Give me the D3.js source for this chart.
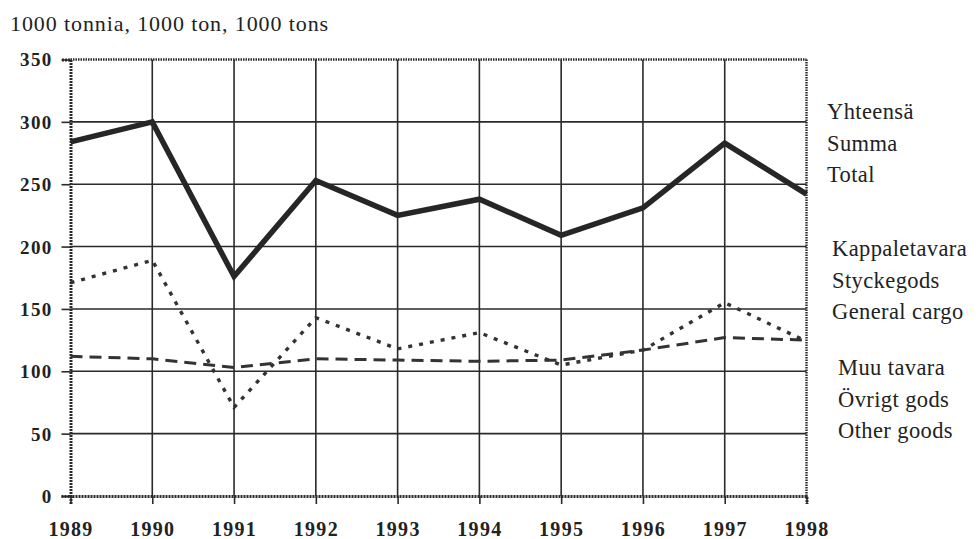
<!DOCTYPE html>
<html><head><meta charset="utf-8">
<script src="https://cdn.jsdelivr.net/npm/d3@7"></script>
<style>
body{margin:0;background:#fff;}
svg{display:block;}
text{font-family:"Liberation Serif","Times New Roman",serif;fill:#222;}
</style></head>
<body><svg id="c" width="978" height="539"></svg>
<script>
const years = [1989,1990,1991,1992,1993,1994,1995,1996,1997,1998];
const total = [284,300,176,253,225,238,209,231,283,242];
const generalCargo = [171,189,71,143,118,131,105,117,155,124];
const otherGoods = [112,110,103,110,109,108,109,117,127,125];
const yTicks = [0,50,100,150,200,250,300,350];
const unitLabel = "1000 tonnia, 1000 ton, 1000 tons";
const legendTotal = ["Yhteensä","Summa","Total"];
const legendGeneral = ["Kappaletavara","Styckegods","General cargo"];
const legendOther = ["Muu tavara","Övrigt gods","Other goods"];

const svg = d3.select("#c");
const L = 70.5, R = 806.5, T = 59.5, B = 496;
const x = d3.scaleLinear().domain([1989,1998]).range([L,R]);
const y = d3.scaleLinear().domain([0,350]).range([B,T]);
const ink = "#2a2a2a";

// grid
svg.append("g").selectAll("line").data(yTicks.filter(d=>d>0 && d<350)).join("line")
  .attr("x1",L).attr("x2",R).attr("y1",d=>y(d)).attr("y2",d=>y(d))
  .attr("stroke",ink).attr("stroke-width",1.6);
svg.append("g").selectAll("line").data(years.slice(1,-1)).join("line")
  .attr("x1",d=>x(d)).attr("x2",d=>x(d)).attr("y1",T).attr("y2",B)
  .attr("stroke",ink).attr("stroke-width",1.6);

// frame (hatched look)
const frame = svg.append("g").attr("fill","none").attr("stroke",ink);
frame.append("line").attr("x1",L).attr("x2",R).attr("y1",T).attr("y2",T).attr("stroke-width",2.6).attr("stroke-dasharray","1.5,1");
frame.append("line").attr("x1",R).attr("x2",R).attr("y1",T).attr("y2",B).attr("stroke-width",2.4).attr("stroke-dasharray","1.5,1");

// axes
const yAxis = d3.axisLeft(y).tickValues(yTicks).tickSize(9).tickPadding(9);
const gy = svg.append("g").attr("transform",`translate(${L},0)`).call(yAxis);
gy.select(".domain").attr("stroke",ink).attr("stroke-width",3).attr("stroke-dasharray","2,1");
gy.selectAll(".tick line").attr("stroke",ink).attr("stroke-width",1.6);
gy.selectAll("text").attr("font-family","Liberation Serif").attr("font-weight","bold")
  .attr("font-size",19).attr("letter-spacing","1.3px").attr("fill","#222").attr("dy","0.34em");

const xAxis = d3.axisBottom(x).tickValues(years).tickFormat(d3.format("d")).tickSize(8).tickPadding(18);
const gx = svg.append("g").attr("transform",`translate(0,${B})`).call(xAxis);
gx.select(".domain").attr("stroke",ink).attr("stroke-width",3).attr("stroke-dasharray","2,1");
gx.selectAll(".tick line").attr("stroke",ink).attr("stroke-width",1.6);
gx.selectAll("text").attr("font-family","Liberation Serif").attr("font-weight","bold")
  .attr("font-size",20).attr("letter-spacing","1.3px").attr("fill","#222");

// series
const line = d3.line().x((d,i)=>x(years[i])).y(d=>y(d));
svg.append("path").datum(otherGoods).attr("d",line).attr("fill","none")
  .attr("stroke","#333").attr("stroke-width",3).attr("stroke-dasharray","12,7");
svg.append("path").datum(generalCargo).attr("d",line).attr("fill","none")
  .attr("stroke","#333").attr("stroke-width",3.4).attr("stroke-dasharray","4,7");
svg.append("path").datum(total).attr("d",line).attr("fill","none")
  .attr("stroke","#262626").attr("stroke-width",5.5).attr("stroke-linejoin","miter");

// unit label
svg.append("text").attr("x",10).attr("y",31).attr("font-size",22).attr("letter-spacing","0.9px").text(unitLabel);

// legend
function legend(lines, lx, ly){
  svg.append("g").selectAll("text").data(lines).join("text")
    .attr("x",lx).attr("y",(d,i)=>ly+i*31.5).attr("font-size",22.5).attr("letter-spacing","0.4px").text(d=>d);
}
legend(legendTotal, 827, 119);
legend(legendGeneral, 832, 256);
legend(legendOther, 838, 375);
</script></body></html>
